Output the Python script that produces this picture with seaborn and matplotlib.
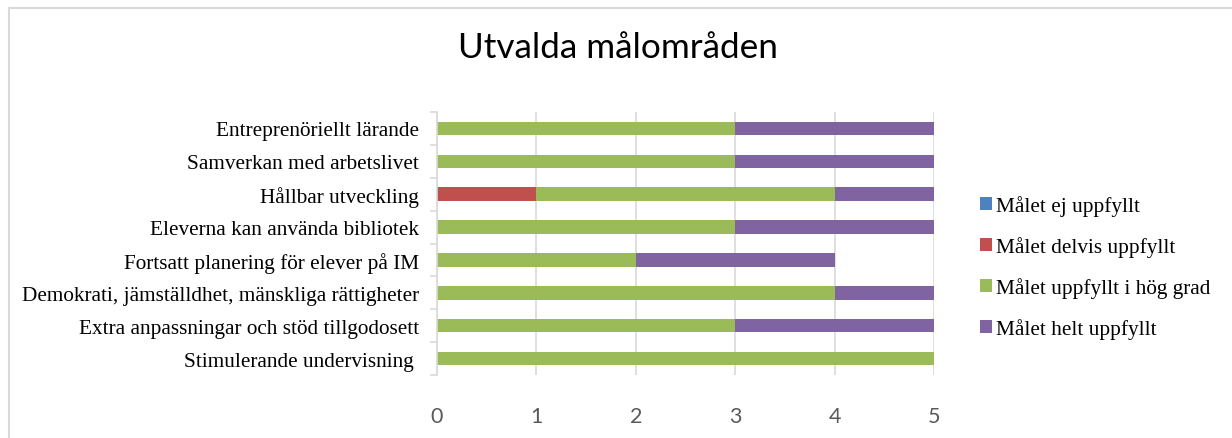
import matplotlib.pyplot as plt
from matplotlib.lines import Line2D
from matplotlib.patches import Patch
import seaborn as sns
import numpy as np

# Categories (top to bottom) and the four stacked series
categories = [
    'Entreprenöriellt lärande',
    'Samverkan med arbetslivet',
    'Hållbar utveckling',
    'Eleverna kan använda bibliotek',
    'Fortsatt planering för elever på IM',
    'Demokrati, jämställdhet, mänskliga rättigheter',
    'Extra anpassningar och stöd tillgodosett',
    'Stimulerande undervisning ',
]
series_names = ['Målet ej uppfyllt', 'Målet delvis uppfyllt',
                'Målet uppfyllt i hög grad', 'Målet helt uppfyllt']
ej_uppfyllt = [0, 0, 0, 0, 0, 0, 0, 0]
delvis_uppfyllt = [0, 0, 1, 0, 0, 0, 0, 0]
hog_grad = [3, 3, 3, 3, 2, 4, 3, 5]
helt_uppfyllt = [2, 2, 1, 2, 2, 1, 2, 0]
colors = ['#4F81BD', '#C0504D', '#9BBB59', '#8064A2']
x_ticks = [0, 1, 2, 3, 4, 5]

W, H = 1232, 439
fig = plt.figure(figsize=(W / 100, H / 100), dpi=100)
ax = fig.add_axes([437 / W, 1 - 376 / H, (934 - 437) / W, (376 - 113) / H])

# Stacked bars: draw cumulative totals from the outermost series inwards
stack = np.array([ej_uppfyllt, delvis_uppfyllt, hog_grad, helt_uppfyllt], dtype=float)
cum = np.cumsum(stack, axis=0)
for i in range(3, -1, -1):
    sns.barplot(x=cum[i], y=categories, order=categories, orient='h',
                color=colors[i], saturation=1, width=0.41, linewidth=0, ax=ax)

ax.set_xlim(0, 5)
ax.set_ylim(7.5, -0.5)
ax.set_xticks(x_ticks)
ax.set_xlabel('')
ax.set_ylabel('')
ax.grid(axis='x', color='#D9D9D9', linewidth=1.2)
ax.set_axisbelow(True)
for s in ['top', 'right', 'bottom']:
    ax.spines[s].set_visible(False)
ax.spines['left'].set_color('#D9D9D9')
ax.spines['left'].set_linewidth(1.2)

ax.tick_params(axis='x', length=0, pad=22, labelcolor='#595959', labelsize=15.5)
for lbl in ax.get_xticklabels():
    lbl.set_family('Lato')
ax.tick_params(axis='y', which='major', length=0, pad=13, labelsize=15.3)
for lbl in ax.get_yticklabels():
    lbl.set_family('Liberation Serif')
ax.set_yticks(np.arange(-0.5, 8, 1), minor=True)
ax.tick_params(axis='y', which='minor', length=5, width=1.2, color='#D9D9D9')

fig.text(618 / W, 1 - 48 / H, 'Utvalda målområden', family='Lato', fontsize=25.3,
         ha='center', va='center')

handles = [Patch(facecolor=c, edgecolor='none') for c in colors]
fig.legend(handles, series_names, loc='center left', bbox_to_anchor=(980 / W, 1 - 268 / H),
           frameon=False, borderpad=0, borderaxespad=0, handlelength=0.57, handleheight=0.57,
           handletextpad=0.2, labelspacing=0.95, prop={'family': 'Liberation Serif', 'size': 15.3})

# Outer chart border (top and left visible)
fig.add_artist(Line2D([9 / W, 1], [1 - 9 / H, 1 - 9 / H], transform=fig.transFigure,
                      color='#D9D9D9', linewidth=1.5))
fig.add_artist(Line2D([9 / W, 9 / W], [0, 1 - 9 / H], transform=fig.transFigure,
                      color='#D9D9D9', linewidth=1.5))

fig.savefig('out.png', dpi=100)
